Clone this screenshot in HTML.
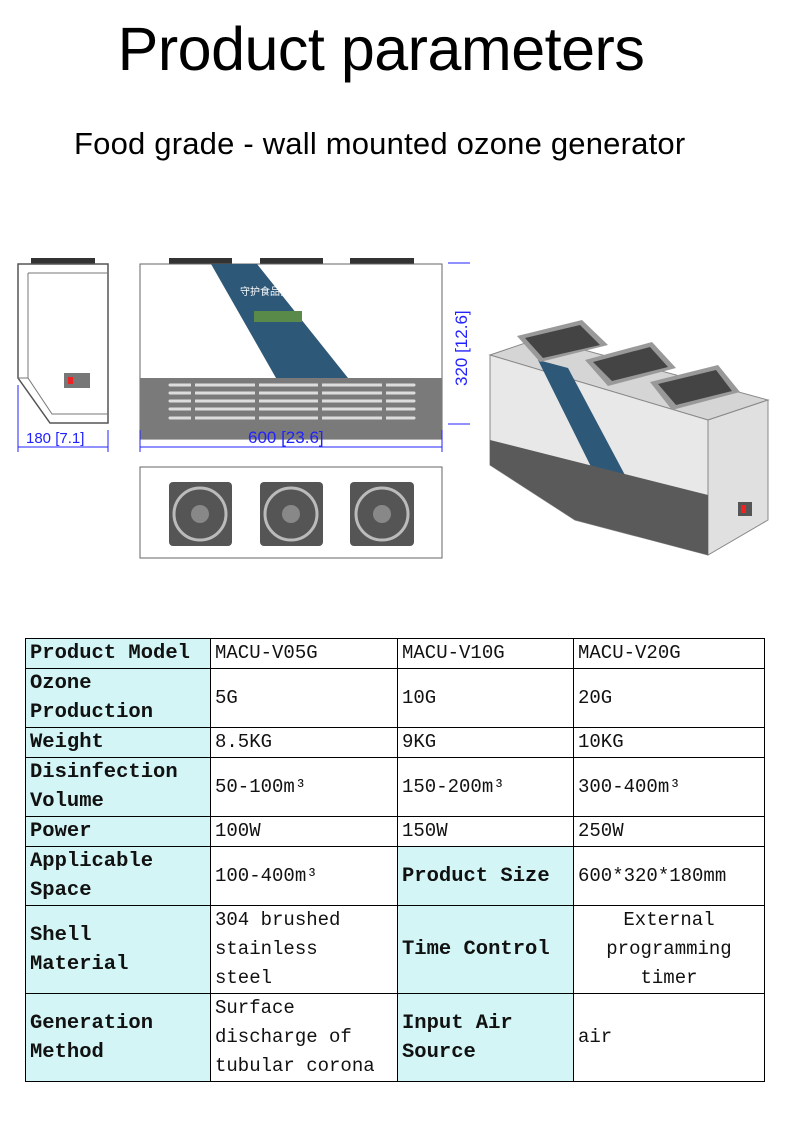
<!DOCTYPE html>
<html><head><meta charset="utf-8"><style>
body{margin:0;width:790px;height:1134px;background:#fff;position:relative;overflow:hidden;font-family:"Liberation Sans",sans-serif}
.t1{position:absolute;left:0;width:762px;top:14px;text-align:center;font-size:61px;color:#000;letter-spacing:-0.5px}
.t2{position:absolute;left:74px;top:126px;font-size:31px;color:#000;letter-spacing:0.2px}
table{position:absolute;left:25px;top:638px;border-collapse:collapse;table-layout:fixed;width:739px;font-family:"Liberation Mono","Noto Sans CJK SC",monospace;font-size:19px;line-height:29px}
td{border:1px solid #000;padding:0 4px;vertical-align:middle;color:#111;overflow:hidden;white-space:nowrap}
td.h{background:#d3f5f5;font-weight:bold;font-size:20.5px}
</style></head><body>
<div class="t1">Product parameters</div>
<div class="t2">Food grade - wall mounted ozone generator</div>
<svg width="790" height="600" style="position:absolute;left:0;top:0" font-family="Liberation Sans">
<rect x="31" y="258" width="64" height="6" fill="#333"/>
<path d="M18 264 L108 264 L108 423 L50 423 L18 378 Z" fill="#fff" stroke="#555" stroke-width="1.5"/>
<path d="M28 273 L108 273 M28 273 L28 378 L18 378 M28 378 L52 414 L108 414" fill="none" stroke="#777"/>
<rect x="64" y="373" width="26" height="15" fill="#777"/><rect x="68" y="377" width="5" height="7" fill="#e22"/>
<g stroke="#22f" fill="#22f"><line x1="18" y1="385" x2="18" y2="452"/><line x1="108" y1="430" x2="108" y2="452"/><line x1="18" y1="447" x2="108" y2="447"/></g>
<text x="26" y="443" font-size="15" fill="#22f">180 [7.1]</text>
<rect x="169" y="258" width="63" height="6" fill="#333"/><rect x="260" y="258" width="63" height="6" fill="#333"/><rect x="350" y="258" width="64" height="6" fill="#333"/>
<rect x="140" y="264" width="302" height="175" fill="#fff" stroke="#666"/>
<polygon points="211,264 257,264 348,378 276,378" fill="#2d5878"/>
<text x="240" y="295" font-size="10" fill="#fff" font-family="Noto Sans CJK SC">守护食品安全</text>
<rect x="254" y="311" width="48" height="11" fill="#5a8a4a"/>
<rect x="140" y="378" width="302" height="61" fill="#7a7a7a"/>
<g stroke="#ddd" stroke-width="3" stroke-linecap="round">
<line x1="170" y1="385" x2="414" y2="385"/><line x1="170" y1="393" x2="414" y2="393"/><line x1="170" y1="401" x2="414" y2="401"/><line x1="170" y1="409" x2="414" y2="409"/><line x1="170" y1="418" x2="414" y2="418"/></g>
<g stroke="#7a7a7a" stroke-width="4"><line x1="193" y1="380" x2="193" y2="425"/><line x1="257" y1="380" x2="257" y2="425"/><line x1="320" y1="380" x2="320" y2="425"/><line x1="384" y1="380" x2="384" y2="425"/></g>
<g stroke="#22f" fill="#22f"><line x1="140" y1="430" x2="140" y2="452"/><line x1="442" y1="430" x2="442" y2="452"/><line x1="140" y1="447" x2="442" y2="447"/>
<line x1="448" y1="263" x2="470" y2="263"/><line x1="448" y1="424" x2="470" y2="424"/></g>
<text x="248" y="443" font-size="17" fill="#22f">600 [23.6]</text>
<text x="0" y="0" font-size="17" fill="#22f" transform="translate(467,386) rotate(-90)">320 [12.6]</text>
<rect x="140" y="467" width="302" height="91" fill="#fff" stroke="#666"/>
<g fill="#555"><rect x="169" y="482" width="63" height="64" rx="4"/><rect x="260" y="482" width="63" height="64" rx="4"/><rect x="350" y="482" width="64" height="64" rx="4"/></g>
<g fill="none" stroke="#bbb" stroke-width="3"><circle cx="200" cy="514" r="26"/><circle cx="291" cy="514" r="26"/><circle cx="382" cy="514" r="26"/></g>
<g fill="#888"><circle cx="200" cy="514" r="9"/><circle cx="291" cy="514" r="9"/><circle cx="382" cy="514" r="9"/></g>
<polygon points="490,355 540,338 768,400 708,420" fill="#d5d5d5" stroke="#888"/>
<polygon points="490,355 708,420 708,555 575,520 490,465" fill="#e8e8e8" stroke="#888"/>
<polygon points="708,420 768,400 768,520 708,555" fill="#e0e0e0" stroke="#888"/>
<polygon points="538,360 568,368 650,522 615,515" fill="#2d5878"/>
<polygon points="490,440 708,495 708,555 575,520 490,465" fill="#5a5a5a"/>
<rect x="738" y="502" width="14" height="14" fill="#555"/><rect x="741" y="505" width="5" height="8" fill="#e22"/>
<g fill="#999"><polygon points="517,336 582,320 608,345 540,362"/><polygon points="585,360 652,342 676,368 608,386"/><polygon points="650,382 718,365 740,392 672,410"/></g>
<g fill="#444"><polygon points="525,338 580,325 600,345 543,358"/><polygon points="593,362 650,347 668,367 612,381"/><polygon points="658,384 716,370 732,391 676,405"/></g>
</svg>
<table>
<colgroup><col style="width:185px"><col style="width:187px"><col style="width:176px"><col style="width:191px"></colgroup>
<tr style="height:29px"><td class="h">Product Model</td><td>MACU-V05G</td><td>MACU-V10G</td><td>MACU-V20G</td></tr>
<tr style="height:58px"><td class="h">Ozone<br>Production</td><td>5G</td><td>10G</td><td>20G</td></tr>
<tr style="height:29px"><td class="h">Weight</td><td>8.5KG</td><td>9KG</td><td>10KG</td></tr>
<tr style="height:59px"><td class="h">Disinfection<br>Volume</td><td>50-100m³</td><td>150-200m³</td><td>300-400m³</td></tr>
<tr style="height:29px"><td class="h">Power</td><td>100W</td><td>150W</td><td>250W</td></tr>
<tr style="height:56px"><td class="h">Applicable<br>Space</td><td>100-400m³</td><td class="h">Product Size</td><td>600*320*180mm</td></tr>
<tr style="height:88px"><td class="h">Shell<br>Material</td><td>304 brushed<br>stainless<br>steel</td><td class="h">Time Control</td><td style="text-align:center">External<br>programming<br>timer</td></tr>
<tr style="height:86px"><td class="h">Generation<br>Method</td><td>Surface<br>discharge of<br>tubular corona</td><td class="h">Input Air<br>Source</td><td>air</td></tr>
</table>
</body></html>
